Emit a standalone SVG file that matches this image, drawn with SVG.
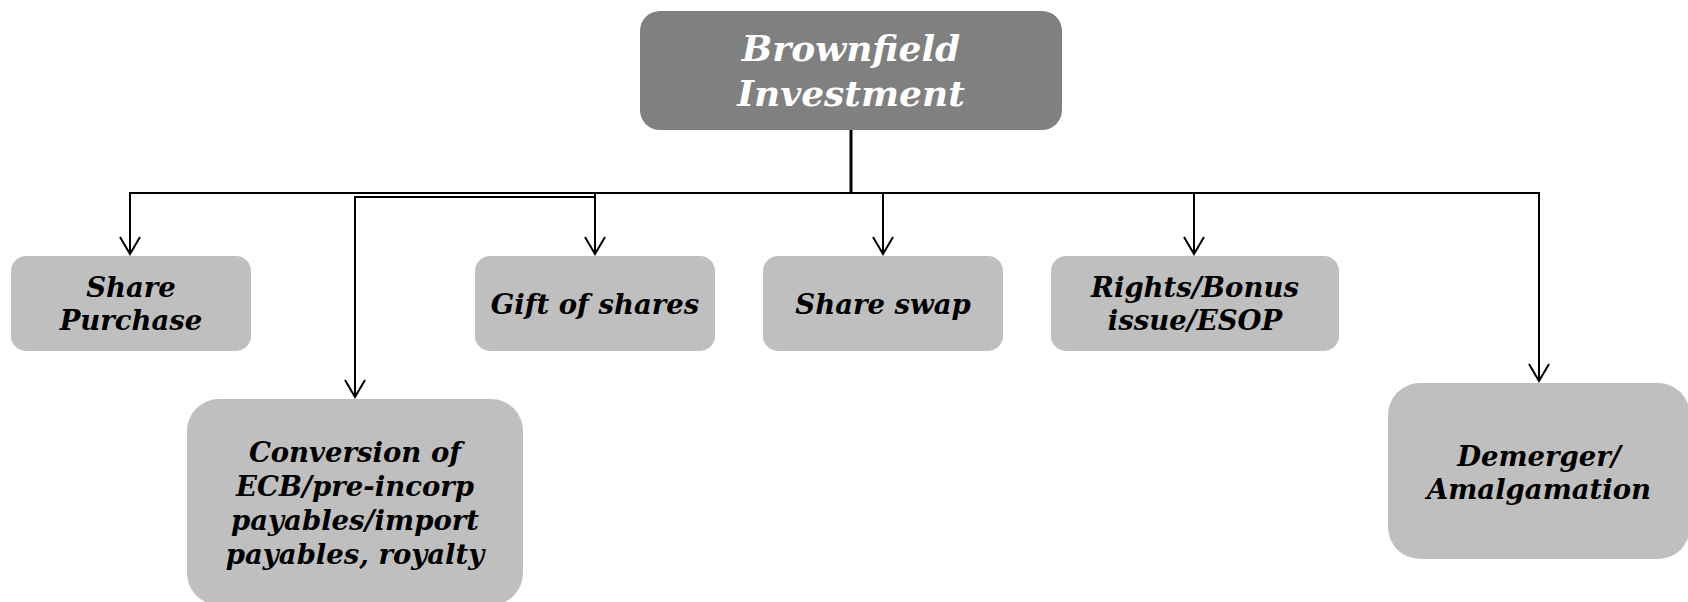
<svg xmlns="http://www.w3.org/2000/svg" width="1688" height="602" viewBox="0 0 1688 602">
  <style>
    .root { fill: #808080; }
    .leaf { fill: #bfbfbf; }
    .label { font-family: "DejaVu Serif", "Liberation Serif", serif; font-weight: bold; font-style: italic; font-size: 27.5px; fill: #000; text-anchor: middle; }
    .title { font-family: "DejaVu Serif", "Liberation Serif", serif; font-weight: bold; font-style: italic; font-size: 36px; fill: #fff; text-anchor: middle; }
    .wire { fill: none; stroke: #000; stroke-width: 2; }
  </style>
  <defs>
    <!-- open chevron arrowhead, tip at the line end -->
    <marker id="vee" viewBox="0 0 20 22" refX="18" refY="11" markerWidth="20" markerHeight="22" markerUnits="userSpaceOnUse" orient="auto">
      <path d="M1,1 L18,11 L1,21" fill="none" stroke="#000" stroke-width="2"/>
    </marker>
  </defs>

  <!-- connectors from the root box to each child -->
  <g id="connectors">
    <path class="wire" d="M851,193 H130 V254" marker-end="url(#vee)"/>
    <path class="wire" d="M851,193 H595 V254" marker-end="url(#vee)"/>
    <path class="wire" d="M595,193 V197 H355 V397" marker-end="url(#vee)"/>
    <path class="wire" d="M851,193 H883 V254" marker-end="url(#vee)"/>
    <path class="wire" d="M851,193 H1194 V254" marker-end="url(#vee)"/>
    <path class="wire" d="M851,193 H1539 V381" marker-end="url(#vee)"/>
    <path d="M851,130 V194" fill="none" stroke="#000" stroke-width="3"/>
  </g>

  <g id="brownfield-investment">
    <rect class="root" x="640" y="11" width="422" height="119" rx="20"/>
    <text class="title" x="851" y="61">Brownfield</text>
    <text class="title" x="851" y="106">Investment</text>
  </g>

  <g id="share-purchase">
    <rect class="leaf" x="11" y="256" width="240" height="95" rx="15"/>
    <text class="label" x="131" y="297">Share</text>
    <text class="label" x="131" y="330">Purchase</text>
  </g>

  <g id="gift-of-shares">
    <rect class="leaf" x="475" y="256" width="240" height="95" rx="15"/>
    <text class="label" x="595" y="314">Gift of shares</text>
  </g>

  <g id="share-swap">
    <rect class="leaf" x="763" y="256" width="240" height="95" rx="15"/>
    <text class="label" x="883" y="314">Share swap</text>
  </g>

  <g id="rights-bonus-esop">
    <rect class="leaf" x="1051" y="256" width="288" height="95" rx="15"/>
    <text class="label" x="1195" y="297">Rights/Bonus</text>
    <text class="label" x="1195" y="330">issue/ESOP</text>
  </g>

  <g id="conversion">
    <rect class="leaf" x="187" y="399" width="336" height="206" rx="32"/>
    <text class="label" x="355" y="462">Conversion of</text>
    <text class="label" x="355" y="496">ECB/pre-incorp</text>
    <text class="label" x="355" y="530">payables/import</text>
    <text class="label" x="355" y="564">payables, royalty</text>
  </g>

  <g id="demerger-amalgamation">
    <rect class="leaf" x="1388" y="383" width="302" height="176" rx="32"/>
    <text class="label" x="1539" y="466">Demerger/</text>
    <text class="label" x="1539" y="499">Amalgamation</text>
  </g>
</svg>
